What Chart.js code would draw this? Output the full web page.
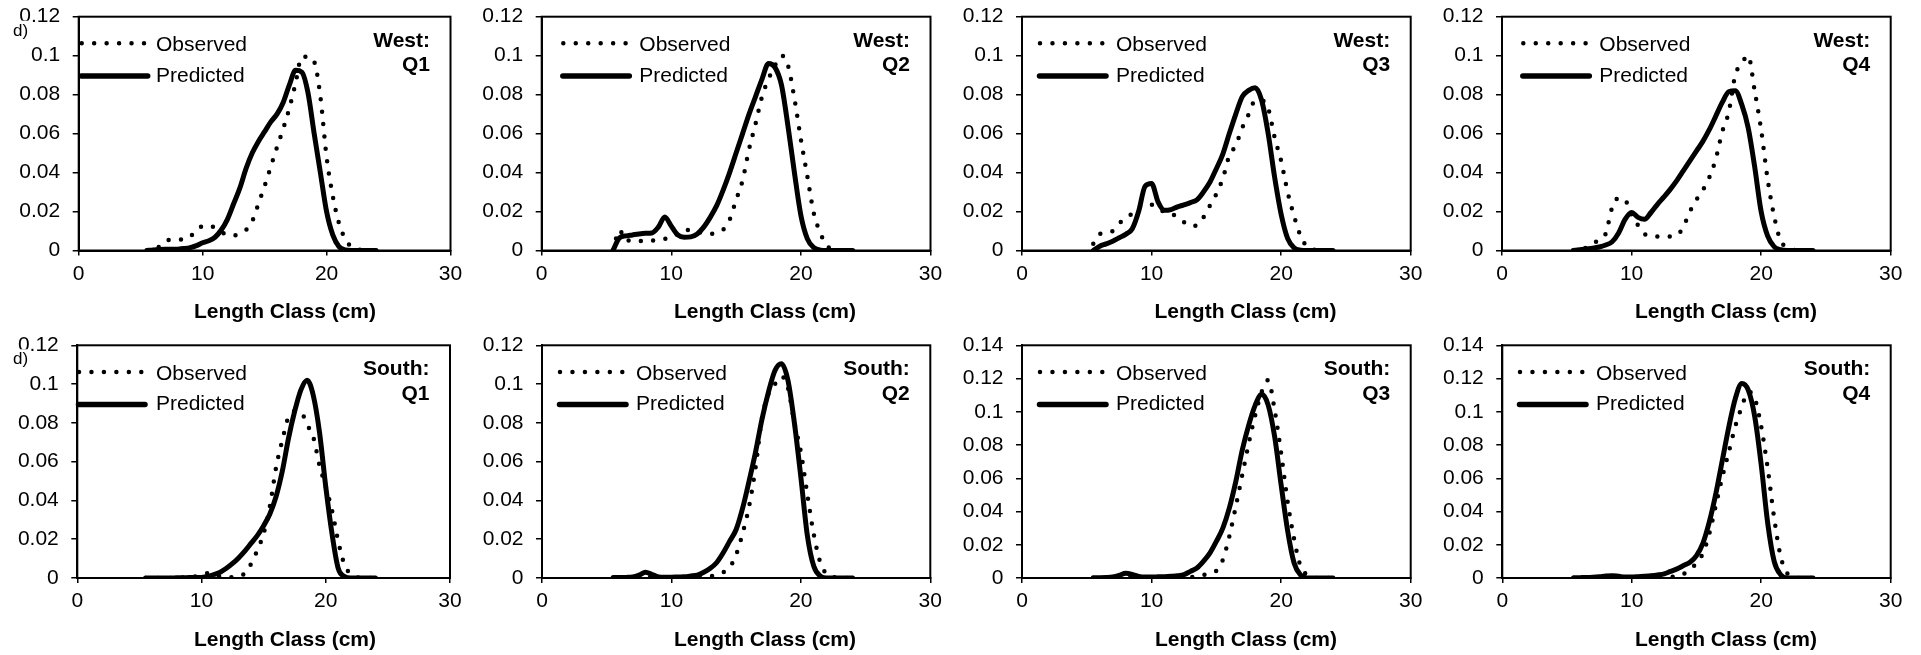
<!DOCTYPE html>
<html>
<head>
<meta charset="utf-8">
<script src="https://cdn.jsdelivr.net/npm/chart.js@4.4.1/dist/chart.umd.min.js"></script>
<style>
html,body{margin:0;padding:0;background:#fff;width:1921px;height:655px;overflow:hidden;position:relative;}
canvas{position:absolute;}
</style>
</head>
<body>
<script>
// ---------------- DATA ----------------
const lengthClasses = [5.5,6,6.5,7,7.5,8,8.5,9,9.5,10,10.5,11,11.5,12,12.5,13,13.5,14,14.5,15,15.5,16,16.5,17,17.5,18,18.5,19,19.5,20,20.5,21,21.5,22,22.5,23,23.5,24];

const westQ1Observed  = [0,0.001,0.002,0.005,0.0055,0.0055,0.006,0.007,0.011,0.0125,0.013,0.0115,0.0095,0.008,0.0077,0.0088,0.0105,0.015,0.024,0.033,0.043,0.053,0.0625,0.073,0.086,0.0995,0.0995,0.097,0.079,0.048,0.028,0.014,0.006,0.002,0.0008,0,0,0];
const westQ1Predicted = [0,0.0003,0.0005,0.0006,0.0006,0.0007,0.001,0.0015,0.0025,0.004,0.005,0.0068,0.0105,0.016,0.024,0.032,0.042,0.050,0.056,0.061,0.066,0.070,0.076,0.085,0.0925,0.0916,0.081,0.060,0.040,0.020,0.008,0.002,0.0003,0,0,0,0,0];

const westQ2Observed  = [0,0.0105,0.005,0.0055,0.005,0.0045,0.005,0.0057,0.006,0.0065,0.0085,0.0105,0.0105,0.0095,0.009,0.0085,0.0095,0.0107,0.0158,0.026,0.036,0.052,0.065,0.079,0.088,0.095,0.1,0.095,0.078,0.057,0.038,0.019,0.009,0.0025,0.0005,0,0,0];
const westQ2Predicted = [0,0.0065,0.0075,0.008,0.0085,0.0088,0.009,0.012,0.0172,0.0125,0.008,0.0068,0.007,0.0085,0.012,0.017,0.023,0.031,0.040,0.050,0.060,0.070,0.079,0.088,0.096,0.094,0.085,0.064,0.040,0.018,0.006,0.0015,0.0002,0,0,0,0,0];

const westQ3Observed  = [0.0035,0.0085,0.009,0.010,0.014,0.016,0.019,0.022,0.0235,0.0235,0.021,0.020,0.019,0.017,0.0145,0.0125,0.013,0.017,0.023,0.029,0.037,0.0487,0.054,0.063,0.070,0.077,0.077,0.073,0.058,0.046,0.030,0.0177,0.0075,0.002,0.0005,0,0,0];
const westQ3Predicted = [0,0.0022,0.0034,0.0048,0.0065,0.0083,0.011,0.020,0.033,0.0344,0.025,0.0206,0.021,0.0224,0.0234,0.0246,0.026,0.030,0.035,0.042,0.0495,0.060,0.070,0.079,0.0822,0.0835,0.077,0.060,0.0375,0.0186,0.0062,0.0014,0.0002,0,0,0,0,0];

const westQ4Observed  = [0,0.0008,0.0014,0.0035,0.0055,0.0086,0.022,0.027,0.026,0.018,0.013,0.0085,0.0074,0.0072,0.007,0.0072,0.0078,0.0122,0.020,0.026,0.031,0.0375,0.047,0.061,0.071,0.090,0.096,0.1,0.082,0.062,0.0366,0.0177,0.005,0.0018,0.0003,0,0,0];
const westQ4Predicted = [0,0.0004,0.0008,0.0012,0.0018,0.0028,0.0045,0.009,0.016,0.0195,0.017,0.016,0.0195,0.0237,0.0275,0.0315,0.036,0.041,0.046,0.051,0.056,0.062,0.069,0.076,0.0815,0.082,0.075,0.063,0.043,0.020,0.0075,0.002,0.0004,0,0,0,0,0];

const southQ1Observed  = [0,0,0,0,0,0,0.0003,0.0005,0.0008,0.0015,0.0025,0.0015,0.0008,0.0004,0.0004,0.0008,0.0025,0.0075,0.0145,0.023,0.037,0.057,0.071,0.083,0.086,0.0855,0.079,0.0725,0.058,0.047,0.035,0.019,0.007,0.002,0.0005,0,0,0];
const southQ1Predicted = [0,0,0,0,0,0.0001,0.0001,0.0002,0.0002,0.0003,0.0008,0.0018,0.003,0.005,0.0075,0.0105,0.014,0.018,0.022,0.027,0.033,0.042,0.055,0.072,0.086,0.097,0.102,0.094,0.075,0.047,0.023,0.005,0.0008,0,0,0,0,0];

const southQ2Observed  = [0,0,0,0.0002,0.0005,0.001,0.0005,0.0002,0.0002,0.0002,0.0002,0.0002,0.0003,0.0004,0.0005,0.0008,0.0018,0.003,0.0055,0.012,0.023,0.037,0.057,0.0826,0.095,0.100,0.104,0.098,0.080,0.065,0.043,0.0224,0.008,0.002,0.0005,0,0,0];
const southQ2Predicted = [0.0002,0.0002,0.0003,0.0005,0.0015,0.003,0.0018,0.0006,0.0004,0.0004,0.0005,0.0006,0.001,0.0015,0.003,0.005,0.008,0.013,0.019,0.025,0.036,0.050,0.065,0.082,0.096,0.107,0.1105,0.102,0.080,0.052,0.022,0.006,0.001,0,0,0,0,0];

const southQ3Observed  = [0,0,0,0.0002,0.0005,0.001,0.0005,0.0002,0.0002,0.0002,0.0002,0.0002,0.0003,0.0003,0.0003,0.0005,0.001,0.0018,0.003,0.0044,0.011,0.025,0.043,0.062,0.081,0.098,0.112,0.119,0.101,0.075,0.046,0.0235,0.007,0.002,0.0003,0,0,0];
const southQ3Predicted = [0.0002,0.0002,0.0003,0.0006,0.0015,0.0028,0.0022,0.001,0.0006,0.0006,0.0007,0.0008,0.001,0.0013,0.002,0.004,0.006,0.010,0.015,0.022,0.030,0.042,0.058,0.077,0.092,0.104,0.1105,0.104,0.085,0.056,0.0285,0.009,0.0018,0,0,0,0,0];

const southQ4Observed  = [0,0,0,0.0002,0.0004,0.0006,0.0005,0.0003,0.0002,0.0002,0.0002,0.0002,0.0003,0.0003,0.0004,0.0006,0.001,0.0024,0.005,0.009,0.015,0.027,0.044,0.061,0.076,0.0914,0.103,0.112,0.108,0.091,0.066,0.036,0.013,0.003,0.0005,0,0,0];
const southQ4Predicted = [0.0001,0.0002,0.0003,0.0005,0.0008,0.0012,0.0014,0.001,0.0006,0.0006,0.0008,0.001,0.0013,0.0018,0.0025,0.004,0.0055,0.0075,0.0095,0.0135,0.021,0.034,0.051,0.071,0.091,0.108,0.117,0.113,0.097,0.068,0.033,0.010,0.002,0,0,0,0,0];

const xTickValues = [0,10,20,30];
const xTickLabels = ['0','10','20','30'];
const yTickValues12 = [0,0.02,0.04,0.06,0.08,0.1,0.12];
const yTickLabels12 = ['0','0.02','0.04','0.06','0.08','0.1','0.12'];
const yTickValues14 = [0,0.02,0.04,0.06,0.08,0.1,0.12,0.14];
const yTickLabels14 = ['0','0.02','0.04','0.06','0.08','0.1','0.12','0.14'];

const seriesNames = ['Observed','Predicted'];
const xAxisTitle = 'Length Class (cm)';
const panelTag = 'd)';
const regionNames = ['West:','South:'];
const quarterNames = ['Q1','Q2','Q3','Q4'];

// ---------------- LAYOUT ----------------
const FONT = "'Liberation Sans', Arial, Helvetica, sans-serif";
const panels = [
  {obs:westQ1Observed,  pred:westQ1Predicted,  region:0, q:0, yv:yTickValues12, yl:yTickLabels12, box:[78.7,16.7,450.5,250.5],  legX:81.7,   txtX:156,    titleX:285,    tag:true},
  {obs:westQ2Observed,  pred:westQ2Predicted,  region:0, q:1, yv:yTickValues12, yl:yTickLabels12, box:[541.7,16.7,930.5,250.5], legX:563.3,  txtX:639.3,  titleX:765,    tag:false},
  {obs:westQ3Observed,  pred:westQ3Predicted,  region:0, q:2, yv:yTickValues12, yl:yTickLabels12, box:[1022,16.7,1410.7,250.5], legX:1040,   txtX:1116,   titleX:1245.5, tag:false},
  {obs:westQ4Observed,  pred:westQ4Predicted,  region:0, q:3, yv:yTickValues12, yl:yTickLabels12, box:[1502,16.7,1890.7,250.5], legX:1523.3, txtX:1599.3, titleX:1726,   tag:false},
  {obs:southQ1Observed, pred:southQ1Predicted, region:1, q:0, yv:yTickValues12, yl:yTickLabels12, box:[77.3,345.3,450,578],     legX:79,     txtX:156,    titleX:285,    tag:true},
  {obs:southQ2Observed, pred:southQ2Predicted, region:1, q:1, yv:yTickValues12, yl:yTickLabels12, box:[542,345.3,930.3,578],    legX:560,    txtX:636,    titleX:765,    tag:false},
  {obs:southQ3Observed, pred:southQ3Predicted, region:1, q:2, yv:yTickValues14, yl:yTickLabels14, box:[1022,345.3,1410.7,578],  legX:1040,   txtX:1116,   titleX:1246,   tag:false},
  {obs:southQ4Observed, pred:southQ4Predicted, region:1, q:3, yv:yTickValues14, yl:yTickLabels14, box:[1502.3,345.3,1890.7,578],legX:1520,   txtX:1596,   titleX:1726,   tag:false}
];

panels.forEach((p) => {
  const [L,T,R,B] = p.box;
  const cl = Math.floor(L) - 78;
  const ct = Math.floor(T) - 16;
  const cw = Math.ceil(R - cl + 32);
  const ch = Math.ceil(B - ct + 76);
  const cv = document.createElement('canvas');
  cv.width = cw; cv.height = ch;
  cv.style.left = cl + 'px'; cv.style.top = ct + 'px';
  cv.style.width = cw + 'px'; cv.style.height = ch + 'px';
  document.body.appendChild(cv);

  const decor = {
    id: 'decor',
    beforeDatasetsDraw(chart) {
      const ctx = chart.ctx, a = chart.chartArea;
      ctx.save();
      ctx.strokeStyle = '#000'; ctx.lineWidth = 2;
      ctx.strokeRect(a.left, a.top, a.right - a.left, a.bottom - a.top);
      ctx.restore();
    },
    afterDraw(chart) {
      const ctx = chart.ctx;
      const X = v => v - cl, Y = v => v - ct;
      ctx.save();
      ctx.fillStyle = '#000'; ctx.strokeStyle = '#000';
      // legend
      ctx.lineCap = 'round';
      ctx.lineWidth = 4.5; ctx.setLineDash([0, 12.46]);
      ctx.beginPath(); ctx.moveTo(X(p.legX), Y(T + 26.6)); ctx.lineTo(X(p.legX + 63), Y(T + 26.6)); ctx.stroke();
      ctx.setLineDash([]); ctx.lineWidth = 5.5;
      ctx.beginPath(); ctx.moveTo(X(p.legX - 0.5), Y(T + 59.3)); ctx.lineTo(X(p.legX + 66), Y(T + 59.3)); ctx.stroke();
      ctx.font = '21px ' + FONT; ctx.textAlign = 'left'; ctx.textBaseline = 'alphabetic';
      ctx.fillText(seriesNames[0], X(p.txtX), Y(T + 34.5));
      ctx.fillText(seriesNames[1], X(p.txtX), Y(T + 65));
      // panel label
      ctx.font = 'bold 21px ' + FONT; ctx.textAlign = 'right';
      ctx.fillText(regionNames[p.region], X(R - 20.5), Y(T + 30));
      ctx.fillText(quarterNames[p.q], X(R - 20.5), Y(T + 54.3));
      // x axis title
      ctx.textAlign = 'center';
      ctx.fillText(xAxisTitle, X(p.titleX), Y(B + 67.6));
      // tag
      if (p.tag) {
        ctx.fillStyle = '#fff';
        ctx.fillRect(X(12), Y(T + 4), 19, 17);
        ctx.fillStyle = '#000';
        ctx.font = '17px ' + FONT; ctx.textAlign = 'left';
        ctx.fillText(panelTag, X(13), Y(T + 19));
      }
      ctx.restore();
    }
  };

  const tickFont = {family: FONT, size: 21};
  new Chart(cv, {
    type: 'line',
    data: {
      datasets: [
        {label: seriesNames[0], data: lengthClasses.map((x,k) => ({x: x, y: p.obs[k]})),
         borderColor: '#000', backgroundColor: '#000', borderWidth: 4.5, borderDash: [0, 12.4],
         borderCapStyle: 'round', borderJoinStyle: 'round', pointRadius: 0, fill: false,
         cubicInterpolationMode: 'monotone'},
        {label: seriesNames[1], data: lengthClasses.map((x,k) => ({x: x, y: p.pred[k]})),
         borderColor: '#000', backgroundColor: '#000', borderWidth: 5,
         borderCapStyle: 'round', borderJoinStyle: 'round', pointRadius: 0, fill: false,
         cubicInterpolationMode: 'monotone'}
      ]
    },
    options: {
      responsive: false, animation: false, devicePixelRatio: 1,
      events: [],
      layout: {padding: {left: 0, top: T - ct, right: cw - (R - cl), bottom: 0}},
      plugins: {legend: {display: false}, tooltip: {enabled: false}, title: {display: false}},
      scales: {
        x: {
          type: 'linear', min: 0, max: 30,
          afterBuildTicks: s => { s.ticks = xTickValues.map(v => ({value: v})); },
          afterFit: s => { s.height = ch - (B - ct); s.paddingLeft = 0; s.paddingRight = 0; s.paddingTop = 0; s.paddingBottom = 0; },
          ticks: {callback: (v, i) => xTickLabels[i], font: tickFont, color: '#000', padding: 6, maxRotation: 0, autoSkip: false},
          grid: {display: true, drawOnChartArea: false, drawTicks: true, tickLength: 5, color: '#000', lineWidth: 1.5},
          border: {display: true, color: '#000', width: 2}
        },
        y: {
          type: 'linear', min: 0, max: p.yv[p.yv.length - 1],
          afterBuildTicks: s => { s.ticks = p.yv.map(v => ({value: v})); },
          afterFit: s => { s.width = L - cl; s.paddingTop = 0; s.paddingBottom = 0; s.paddingLeft = 0; s.paddingRight = 0; },
          ticks: {callback: (v, i) => p.yl[i], font: tickFont, color: '#000', padding: 12.5, autoSkip: false},
          grid: {display: true, drawOnChartArea: false, drawTicks: true, tickLength: 6, color: '#000', lineWidth: 1.5},
          border: {display: true, color: '#000', width: 2}
        }
      }
    },
    plugins: [decor]
  });
});
</script>
</body>
</html>
